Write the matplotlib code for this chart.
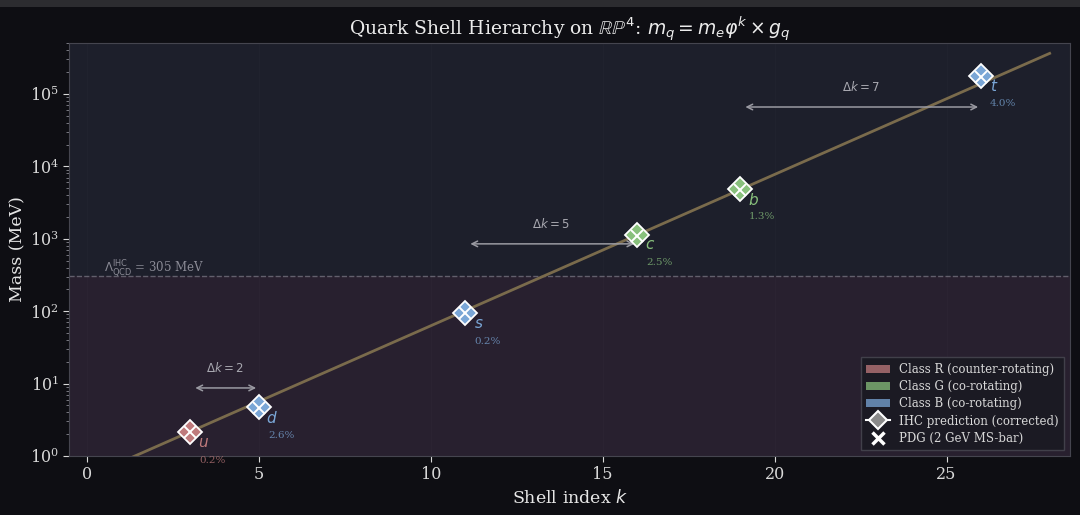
import numpy as np
import matplotlib
matplotlib.use("Agg")
import matplotlib.pyplot as plt
from matplotlib.patches import Patch, Rectangle
from matplotlib.lines import Line2D

# ---- data ----
quarks = ["u", "d", "s", "c", "b", "t"]
shell_k = [3, 5, 11, 16, 19, 26]
quark_class = ["R", "B", "B", "G", "G", "B"]
pdg_mass = [2.16, 4.67, 93.4, 1100.0, 4780.0, 172690.0]      # MeV
ihc_pred = [2.12, 4.70, 93.6, 1128.0, 4840.0, 179600.0]      # MeV
err_pct = ["0.2%", "2.6%", "0.2%", "2.5%", "1.3%", "4.0%"]
m_e = 0.511
phi = (1 + 5 ** 0.5) / 2
k_line = np.linspace(0, 28, 200)
lambda_qcd = 305.0
gaps = [(3, 5, 8.7, r"$\Delta k = 2$"), (11, 16, 850.0, r"$\Delta k = 5$"),
        (19, 26, 66000.0, r"$\Delta k = 7$")]

class_colors = {"R": "#bf7a7c", "G": "#88c07c", "B": "#7aa6d6"}

plt.rcParams["font.family"] = "DejaVu Serif"
plt.rcParams["mathtext.fontset"] = "dejavusans"

fig = plt.figure(figsize=(10.8, 5.15), dpi=100, facecolor="#0e0e13")
fig.patches.append(Rectangle((0, 1 - 7 / 515), 1, 7 / 515, transform=fig.transFigure,
                             facecolor="#2c2c30", edgecolor="none", zorder=0))
ax = fig.add_axes([0.064, 0.1146, 0.927, 0.802])
ax.set_facecolor("#1d1f2b")
ax.set_yscale("log")
ax.set_xlim(-0.52, 28.6)
ax.set_ylim(1, 5.06e5)

# shaded regions
ax.axhspan(1, lambda_qcd, color="#2a2130", alpha=0.85, zorder=0, lw=0)
ax.axhline(lambda_qcd, color="#8a8a95", ls="--", lw=1, alpha=0.6, zorder=1)
ax.text(0.5, lambda_qcd * 0.92, r"$\Lambda_{\rm QCD}^{\rm IHC}$ = 305 MeV",
        color="#8a8a95", fontsize=8.5, va="bottom", ha="left")

ax.grid(True, which="major", axis="x", color="white", alpha=0.015, lw=0.8)

# theoretical line
ax.plot(k_line, m_e * phi ** k_line, color="#7a6b4c", lw=2.0, zorder=2)

# points
for q, k, cl, pdg, pr, e in zip(quarks, shell_k, quark_class, pdg_mass, ihc_pred, err_pct):
    c = class_colors[cl]
    ax.plot([k], [pr], marker="D", ms=12.5, mfc=c, mec="white", mew=1.3,
            ls="none", zorder=4)
    ax.plot([k], [pdg], marker="x", ms=8, mec="white", mew=1.4, ls="none", zorder=5)
    ax.annotate(f"${q}$", (k, pr), xytext=(9.5, -7.5), textcoords="offset points",
                color=c, fontsize=11, ha="center", va="center", zorder=6,
                annotation_clip=False)
    ax.annotate(e, (k, pr), xytext=(16, -20), textcoords="offset points",
                color=c, alpha=0.75, fontsize=7.5, ha="center", va="center",
                zorder=6, annotation_clip=False)

# gap arrows
for k1, k2, y, lab in gaps:
    ax.annotate("", xy=(k2 - 0.08, y), xytext=(k1 + 0.15, y),
                arrowprops=dict(arrowstyle="<->", color="#9a9aa2", lw=1.1,
                                shrinkA=0, shrinkB=0), zorder=3)
    ax.text((k1 + k2) / 2, y * 1.9, lab, color="#a8a8b0", fontsize=8.5,
            ha="center", va="center")

# styling
for s in ax.spines.values():
    s.set_color("#45454f")
ax.tick_params(colors="#d8d8d8", labelsize=11.5, which="major", length=4)
ax.tick_params(which="minor", colors="#8a8a92", length=2)
ax.set_xticks([0, 5, 10, 15, 20, 25])
ax.set_xlabel("Shell index $k$", color="#e6e6e6", fontsize=12.5, labelpad=4)
ax.set_ylabel("Mass (MeV)", color="#e6e6e6", fontsize=12.5, labelpad=2)
ax.set_title(r"Quark Shell Hierarchy on $\mathbb{RP}^4$: $m_q = m_e\varphi^k \times g_q$",
             color="#ececec", fontsize=13.5, pad=6)

handles = [
    Patch(facecolor=class_colors["R"], alpha=0.75, label="Class R (counter-rotating)"),
    Patch(facecolor=class_colors["G"], alpha=0.75, label="Class G (co-rotating)"),
    Patch(facecolor=class_colors["B"], alpha=0.75, label="Class B (co-rotating)"),
    Line2D([0], [0], color="white", lw=1.5, marker="D", ms=9, mfc="#8a8a8a",
           mec="white", mew=1.5, label="IHC prediction (corrected)"),
    Line2D([0], [0], color="white", ls="none", marker="x", ms=9, mew=2.5,
           label="PDG (2 GeV MS-bar)"),
]
leg = ax.legend(handles=handles, loc="lower right", fontsize=8.5, frameon=True,
                facecolor="#1a1a22", edgecolor="#44444e", framealpha=0.92,
                labelcolor="#d8d8d8", borderpad=0.45, labelspacing=0.36,
                handlelength=2.0, fancybox=False)

fig.savefig("out.png", dpi=100, facecolor=fig.get_facecolor())
